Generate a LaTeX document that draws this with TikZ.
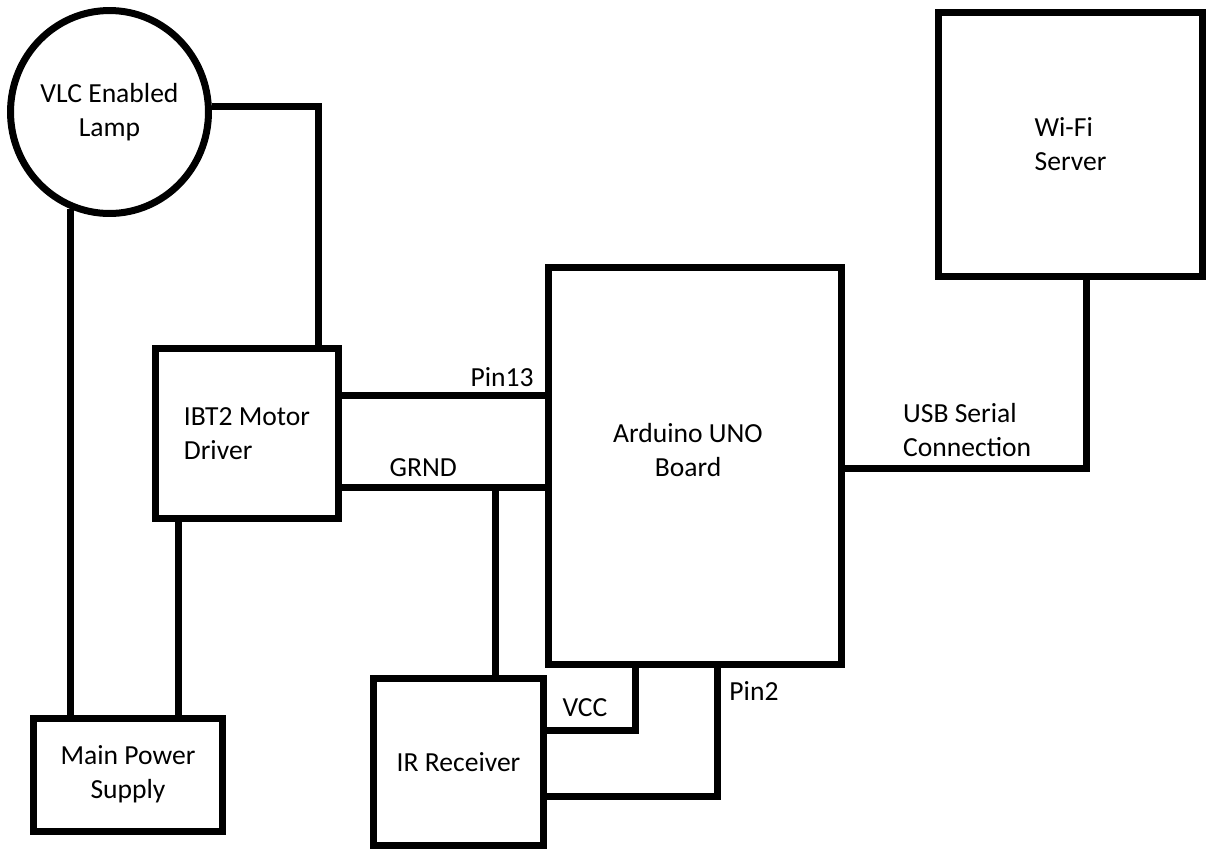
\documentclass[tikz,border=0pt]{standalone}
\usepackage{fontspec}
\setmainfont{Carlito}
\usetikzlibrary{shapes.geometric,positioning}

\tikzset{
  wire/.style={line width=0.14cm},
  box/.style={draw, rectangle, line width=0.14cm, inner sep=0pt, align=left},
  lampshape/.style={draw, ellipse, line width=0.14cm, inner sep=0pt, align=center},
  lbl/.style={inner sep=0pt, align=left}
}

\begin{document}
\begin{tikzpicture}[x=0.02cm, y=-0.02cm, font=\fontsize{15.7}{19.35}\selectfont]
\useasboundingbox (0,0) rectangle (1207,849);

\node[lampshape, minimum width=3.96cm, minimum height=4.06cm] (lamp) at (109.5,112) {VLC Enabled\\Lamp};
\node[box, minimum width=5.3cm, minimum height=5.3cm] (wifi) at (1070.5,144.5) {Wi-Fi\\Server};
\node[box, minimum width=5.88cm, minimum height=7.96cm] (ard) at (695,466) {};
\node[lbl, align=center] (ardtext) at (688,450) {Arduino UNO\\Board};
\node[box, minimum width=3.68cm, minimum height=3.42cm] (ibt) at (247,433.5) {IBT2 Motor\\Driver};
\node[box, align=center, minimum width=3.8cm, minimum height=2.26cm] (psu) at (128,774.5) {Main Power\\Supply};
\node[box, minimum width=3.42cm, minimum height=3.36cm] (ir) at (458.5,762) {IR Receiver};

\coordinate (xlamp) at (318,0);
\coordinate (xpsu) at (178,0);
\coordinate (xir) at (495,0);
\coordinate (xvcc) at (635,0);
\coordinate (xpin) at (717,0);
\coordinate (xusb) at (1086,0);
\coordinate (ypin) at (0,395);
\coordinate (ygrnd) at (0,487);
\coordinate (yvcc) at (0,730);
\coordinate (ypintwo) at (0,796);
\coordinate (yusb) at (0,468);

\draw[wire] (lamp.3) -| (ibt.north -| xlamp);
\draw[wire] (lamp.248) -- (lamp.248 |- psu.north);
\draw[wire] (ibt.south -| xpsu) -- (psu.north -| xpsu);
\draw[wire] (ibt.east |- ypin) -- node[lbl, pos=0.79, yshift=0.36cm] (pin13) {Pin13} (ard.west |- ypin);
\draw[wire] (ibt.east |- ygrnd) -- node[lbl, pos=0.4, yshift=0.38cm] (grnd) {GRND} (ard.west |- ygrnd);
\draw[wire] (xir |- ygrnd) -- (ir.north -| xir);
\draw[wire] (ard.south -| xvcc) |- node[lbl, pos=0.786, yshift=0.44cm] (vcc) {VCC} (ir.east |- yvcc);
\draw[wire] (ard.south -| xpin) |- node[lbl, pos=0.088, xshift=0.74cm] (pin2) {Pin2} (ir.east |- ypintwo);
\draw[wire] (ard.east |- yusb) -| node[lbl, pos=0.253, yshift=0.76cm] (usb) {USB Serial\\Connection} (wifi.south -| xusb);
\end{tikzpicture}
\end{document}
